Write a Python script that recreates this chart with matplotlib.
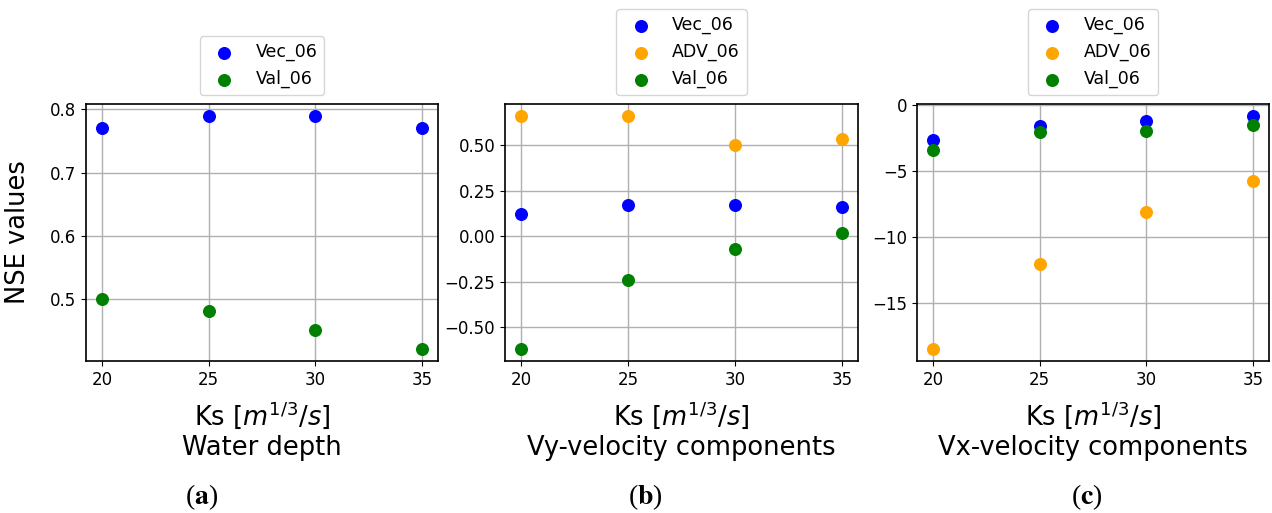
import numpy as np
import matplotlib
matplotlib.use("Agg")
import matplotlib.pyplot as plt

# Ks values (x axis)
ks = [20, 25, 30, 35]

# (a) water depth
depth_vec = [0.77, 0.79, 0.79, 0.77]
depth_val = [0.50, 0.48, 0.45, 0.42]

# (b) Vy-velocity
vy_vec = [0.12, 0.17, 0.17, 0.16]
vy_adv = [0.66, 0.66, 0.50, 0.53]
vy_val = [-0.62, -0.24, -0.07, 0.02]

# (c) Vx-velocity
vx_vec = [-2.66, -1.58, -1.20, -0.83]
vx_adv = [-18.47, -12.0, -8.13, -5.77]
vx_val = [-3.39, -2.08, -1.96, -1.56]

titles = ["Water depth", "Vy-velocity components", "Vx-velocity components"]
panel_tags = ["a", "b", "c"]

fig = plt.figure(figsize=(12.72, 5.13), dpi=100)
W, H = 1272, 513

# axes boxes in pixels: left, right
boxes = [(86, 438), (505, 858), (917, 1269)]
top, bottom = 104, 361

panels = [
    [("Vec_06", depth_vec, "blue"), ("Val_06", depth_val, "green")],
    [("Vec_06", vy_vec, "blue"), ("ADV_06", vy_adv, "orange"), ("Val_06", vy_val, "green")],
    [("Vec_06", vx_vec, "blue"), ("ADV_06", vx_adv, "orange"), ("Val_06", vx_val, "green")],
]

tag_x = [202, 645, 1087]

for i, (l, r) in enumerate(boxes):
    ax = fig.add_axes([l / W, 1 - bottom / H, (r - l) / W, (bottom - top) / H])
    for name, vals, col in panels[i]:
        ax.scatter(ks, vals, s=70, color=col, label=name, zorder=3)
    ax.set_xticks([20, 25, 30, 35])
    ax.tick_params(labelsize=12)
    ax.grid(True, color="#b0b0b0", linewidth=1.0)
    ax.set_axisbelow(True)
    for sp in ax.spines.values():
        sp.set_linewidth(1.2)
    ax.set_xlabel("Ks [$m^{1/3}/s$]\n" + titles[i], fontsize=18.5, labelpad=8)
    ax.legend(loc="lower center", bbox_to_anchor=(0.5, 1.0), fontsize=12.5)
    if i == 0:
        ax.set_ylabel("NSE values", fontsize=18.5)
        ax.yaxis.set_label_coords(-0.155, 0.5)
    fig.text(tag_x[i] / W, 1 - 497 / H, "($\\mathbf{" + panel_tags[i] + "}$)",
             ha="center", va="center", fontsize=20, family="Liberation Serif",
             math_fontfamily="stix")

fig.savefig("out.png", dpi=100)
